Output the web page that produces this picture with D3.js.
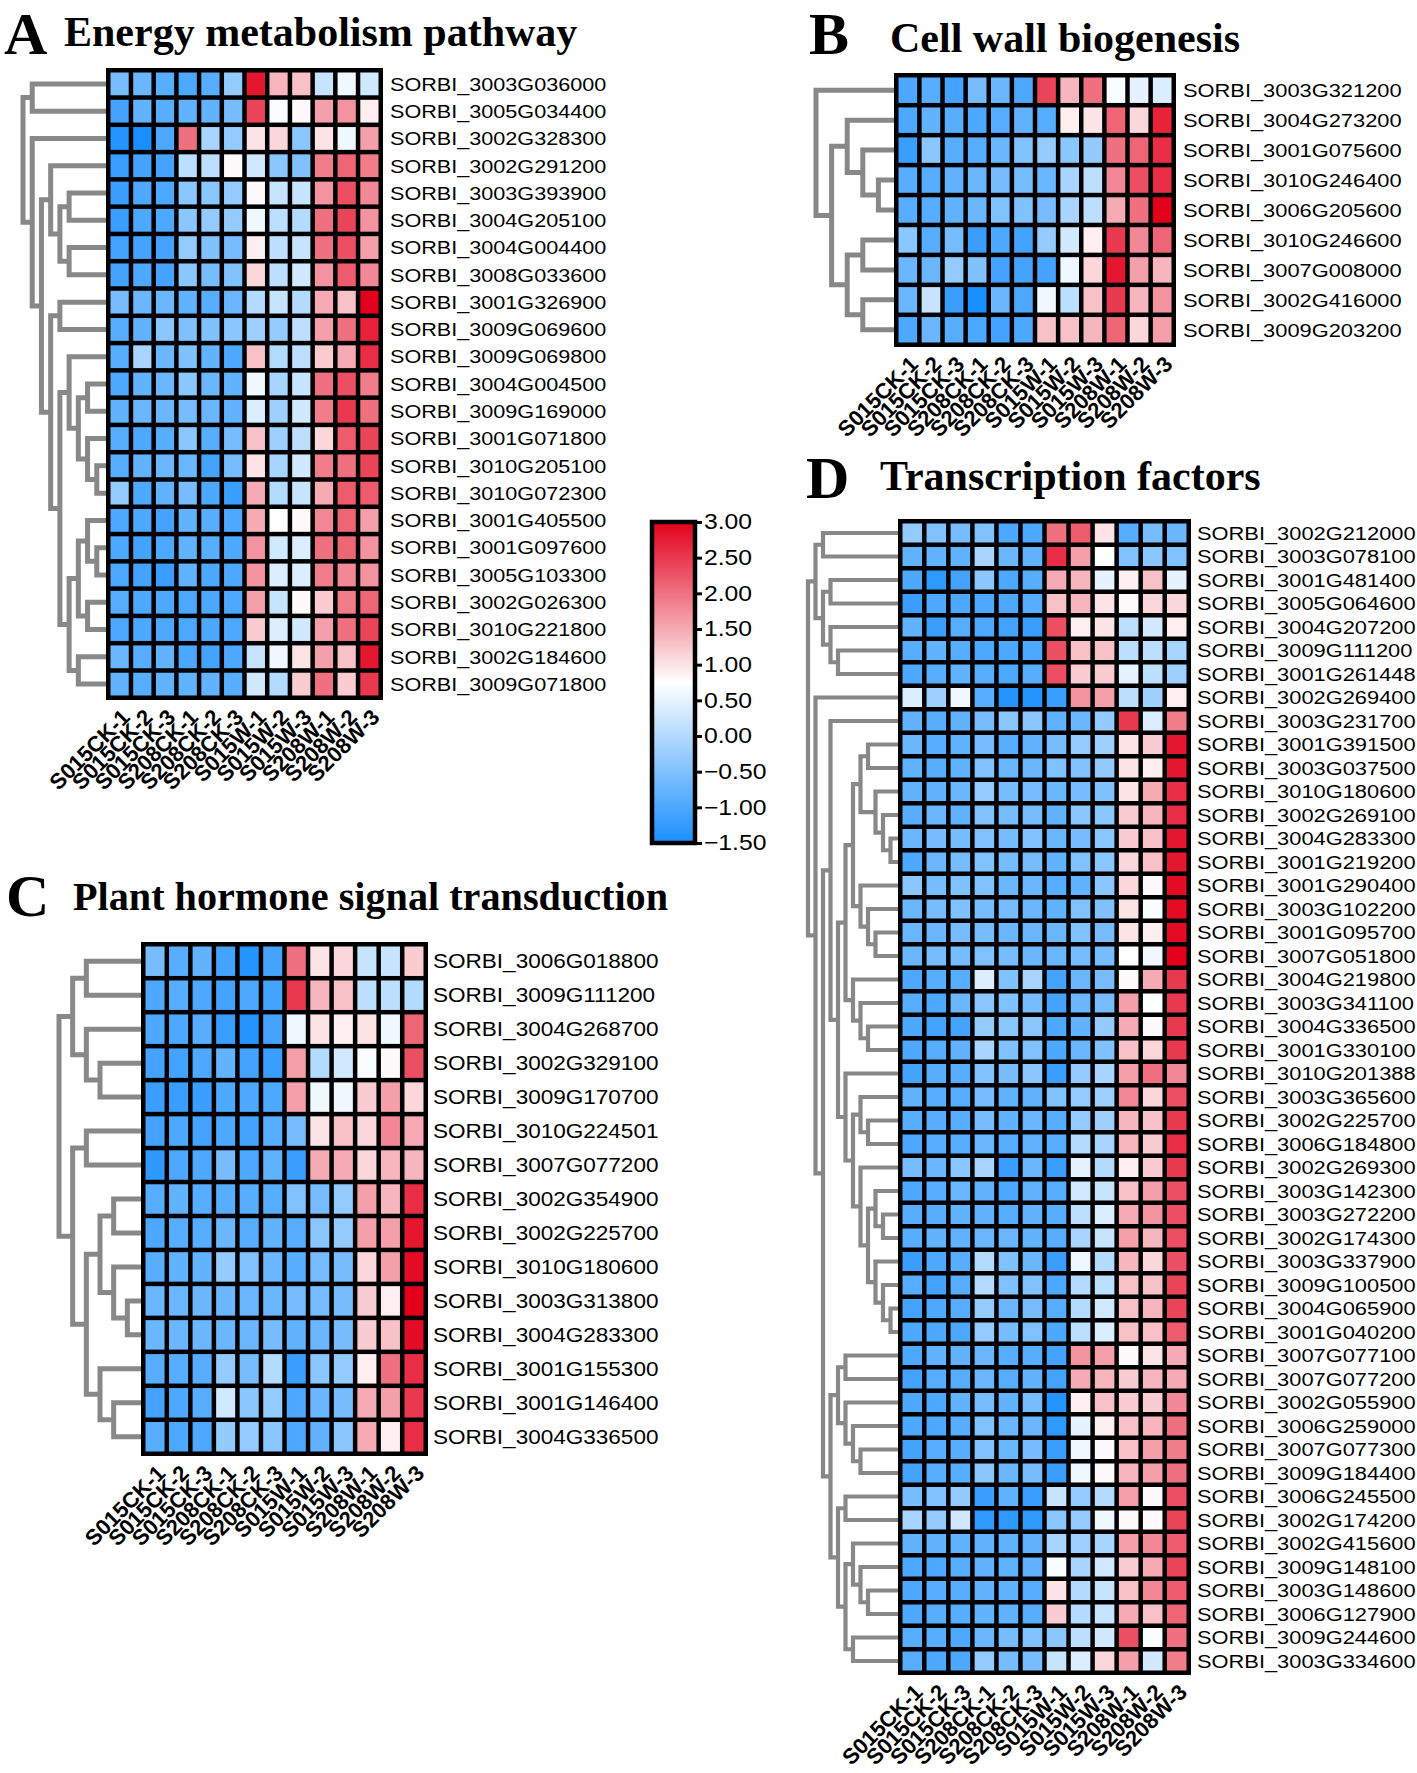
<!DOCTYPE html>
<html>
<head>
<meta charset="utf-8">
<script src="https://cdn.jsdelivr.net/npm/d3@7"></script>
<style>
  body { margin: 0; background: #fff; }
  svg text { font-family: "Liberation Sans", Arial, sans-serif; fill: #000; }
  .title { font-family: "Liberation Serif", "Times New Roman", serif; font-weight: bold; }
</style>
</head>
<body>
<svg id="chart" width="1417" height="1773"></svg>
<script>
// DATA
const samples = ['S015CK-1', 'S015CK-2', 'S015CK-3', 'S208CK-1', 'S208CK-2', 'S208CK-3',
  'S015W-1', 'S015W-2', 'S015W-3', 'S208W-1', 'S208W-2', 'S208W-3'];

const legendTicks = [3, 2.5, 2, 1.5, 1, 0.5, 0, -0.5, -1, -1.5];

// A - energy metabolism
const genesA = ['SORBI_3003G036000', 'SORBI_3005G034400', 'SORBI_3002G328300', 'SORBI_3002G291200',
  'SORBI_3003G393900', 'SORBI_3004G205100', 'SORBI_3004G004400', 'SORBI_3008G033600',
  'SORBI_3001G326900', 'SORBI_3009G069600', 'SORBI_3009G069800', 'SORBI_3004G004500',
  'SORBI_3009G169000', 'SORBI_3001G071800', 'SORBI_3010G205100', 'SORBI_3010G072300',
  'SORBI_3001G405500', 'SORBI_3001G097600', 'SORBI_3005G103300', 'SORBI_3002G026300',
  'SORBI_3010G221800', 'SORBI_3002G184600', 'SORBI_3009G071800'];
const valuesA = [
  [-0.6, -0.7, -0.9, -1.0, -0.9, -0.3, 2.8, 1.4, 1.3, 0.2, 0.6, 0.3],
  [-1.1, -0.8, -0.9, -0.8, -0.8, -0.6, 2.4, 0.7, 0.8, 1.6, 1.7, 0.9],
  [-1.4, -1.5, -1.0, 2.0, -0.1, -0.3, 1.0, 1.1, -0.4, 1.0, 0.6, 1.6],
  [-1.2, -1.1, -1.1, 0.1, 0.1, 0.8, 0.3, -0.4, -0.5, 1.9, 2.1, 1.9],
  [-1.2, -1.0, -1.0, -0.4, -0.4, -0.3, 0.8, 0.2, 0.2, 1.7, 2.3, 1.8],
  [-1.2, -1.0, -1.0, -0.4, -0.3, -0.3, 0.6, 0.1, 0.0, 2.0, 2.4, 1.7],
  [-1.1, -1.1, -1.1, -0.3, -0.5, -0.6, 0.9, 0.1, 0.2, 2.0, 2.3, 1.6],
  [-1.1, -1.0, -1.1, -0.4, -0.6, -0.5, 1.1, 0.1, 0.3, 1.7, 2.2, 1.8],
  [-0.6, -0.7, -0.7, -0.8, -0.9, -0.7, 0.0, 0.2, 0.0, 1.5, 1.3, 3.0],
  [-0.9, -0.8, -0.4, -0.5, -0.5, -0.4, -0.2, -0.3, 0.1, 1.6, 2.0, 2.7],
  [-0.9, -0.1, -0.7, -0.5, -0.8, -1.0, 1.3, 0.0, 0.1, 1.2, 1.5, 2.6],
  [-1.0, -0.8, -0.7, -0.4, -0.7, -0.8, 0.6, -0.1, 0.2, 2.0, 2.3, 1.9],
  [-0.8, -0.7, -0.7, -0.6, -0.7, -0.8, 0.4, -0.2, 0.3, 1.9, 2.5, 2.0],
  [-0.9, -1.0, -0.9, -0.4, -0.9, -0.6, 1.3, -0.2, 0.1, 1.1, 2.2, 2.4],
  [-0.9, -0.8, -0.7, -0.7, -1.1, -0.6, 1.0, -0.1, 0.3, 1.9, 2.0, 2.4],
  [-0.3, -1.0, -0.8, -0.6, -1.0, -1.2, 1.5, 0.0, 0.2, 1.5, 2.2, 2.2],
  [-1.0, -1.0, -1.1, -0.8, -0.9, -1.0, 1.5, 0.75, 0.8, 1.8, 2.1, 1.6],
  [-1.0, -1.1, -1.0, -0.8, -0.9, -1.0, 1.7, 0.3, 0.4, 2.0, 2.1, 1.7],
  [-1.0, -1.1, -1.2, -0.8, -1.0, -1.0, 1.7, 0.4, 0.4, 1.9, 1.8, 1.7],
  [-0.9, -1.0, -1.0, -1.0, -1.0, -1.0, 1.6, 0.2, 0.8, 1.2, 1.9, 2.1],
  [-1.0, -1.0, -1.0, -1.0, -1.0, -1.0, 1.2, 0.4, 0.3, 1.6, 2.0, 2.4],
  [-0.7, -0.9, -0.8, -1.0, -1.1, -1.0, 0.2, 0.6, 1.0, 1.6, 1.3, 2.8],
  [-0.8, -0.9, -0.8, -0.8, -0.8, -0.9, 0.3, 0.0, 1.2, 2.0, 1.2, 2.5]
];
// tree nodes: [height, child, child], leaves are row indexes
const treeA = [9, [8, 0, 1], [8, 2, [7,
  [6, 3, [5, [4, 4, 5], [4, 6, 7]]],
  [6, [5, 8, 9], [5,
    [4, 10, [3, [2, 11, 12], [2, 13, [1, 14, 15]]]],
    [4, [3, [2, 16, [1, 17, 18]], [2, 19, 20]], [3, 21, 22]]]]]]];

// B - cell wall biogenesis
const genesB = ['SORBI_3003G321200', 'SORBI_3004G273200', 'SORBI_3001G075600', 'SORBI_3010G246400',
  'SORBI_3006G205600', 'SORBI_3010G246600', 'SORBI_3007G008000', 'SORBI_3002G416000',
  'SORBI_3009G203200'];
const valuesB = [
  [-1.0, -0.9, -1.1, -0.6, -0.7, -1.0, 2.4, 1.4, 2.0, 0.7, 0.5, 0.4],
  [-1.0, -0.8, -0.9, -1.0, -0.9, -0.8, -0.9, 0.9, 1.0, 2.1, 1.1, 2.7],
  [-1.2, -0.4, -0.9, -0.9, -0.7, -0.5, -0.3, -0.4, -0.3, 2.0, 2.1, 2.6],
  [-0.9, -0.9, -0.8, -0.7, -0.6, -0.6, -0.7, -0.1, 0.1, 1.8, 2.3, 2.6],
  [-0.9, -0.9, -0.8, -0.7, -0.5, -0.5, -0.6, -0.1, 0.1, 1.5, 2.0, 3.0],
  [-0.4, -0.9, -0.6, -1.2, -1.0, -1.1, -0.3, 0.3, 0.9, 2.5, 1.8, 2.1],
  [-0.7, -0.7, -0.3, -0.5, -1.1, -1.1, -1.1, 0.6, 1.1, 2.8, 1.6, 1.4],
  [-0.7, 0.2, -1.2, -1.5, -0.7, -1.0, 0.6, 0.1, 1.3, 2.5, 1.4, 1.7],
  [-1.0, -0.7, -0.9, -1.0, -1.1, -1.0, 1.3, 1.3, 1.4, 2.1, 1.1, 1.6]
];
const treeB = [5, 0, [4, [3, 1, [2, 2, [1, 3, 4]]], [3, [2, 5, 6], [2, 7, 8]]]];

// C - plant hormone signal transduction
const genesC = ['SORBI_3006G018800', 'SORBI_3009G111200', 'SORBI_3004G268700', 'SORBI_3002G329100',
  'SORBI_3009G170700', 'SORBI_3010G224501', 'SORBI_3007G077200', 'SORBI_3002G354900',
  'SORBI_3002G225700', 'SORBI_3010G180600', 'SORBI_3003G313800', 'SORBI_3004G283300',
  'SORBI_3001G155300', 'SORBI_3001G146400', 'SORBI_3004G336500'];
const valuesC = [
  [-0.6, -0.9, -0.8, -1.1, -1.4, -1.1, 2.0, 1.0, 1.1, 0.2, 0.2, 1.2],
  [-1.0, -0.9, -1.0, -1.1, -1.0, -1.1, 2.5, 1.4, 1.3, 0.1, 0.1, 0.0],
  [-1.0, -1.0, -0.9, -1.2, -1.4, -1.1, 0.6, 1.0, 0.9, 1.0, 0.6, 2.1],
  [-1.1, -1.1, -1.0, -0.8, -1.1, -1.2, 1.6, 0.0, 0.3, 0.7, 0.8, 2.3],
  [-1.2, -1.2, -1.2, -1.0, -1.0, -1.0, 1.6, 0.6, 0.6, 1.2, 1.6, 1.1],
  [-1.1, -1.0, -1.1, -1.0, -1.1, -0.9, -0.6, 1.0, 1.3, 1.1, 1.8, 1.5],
  [-1.3, -1.0, -1.0, -0.6, -1.0, -0.8, -1.2, 1.5, 1.5, 1.1, 1.4, 1.4],
  [-0.9, -0.8, -0.9, -0.9, -0.9, -0.9, -0.5, -0.6, -0.3, 1.6, 1.4, 2.6],
  [-1.0, -0.9, -0.9, -0.7, -0.9, -0.8, -0.9, -0.4, -0.3, 1.6, 1.6, 2.8],
  [-0.9, -0.8, -0.8, -0.3, -0.5, -0.7, -0.9, -0.6, -0.6, 1.1, 1.6, 2.9],
  [-0.7, -0.7, -0.7, -0.7, -0.7, -0.7, -0.6, -0.6, -0.6, 1.2, 0.9, 3.0],
  [-0.7, -0.7, -0.7, -0.7, -0.7, -0.6, -0.8, -0.7, -0.6, 1.2, 1.3, 2.9],
  [-0.9, -0.9, -0.9, -0.3, -0.6, 0.0, -1.2, -0.4, -0.3, 0.9, 2.0, 2.6],
  [-1.1, -1.0, -0.9, 0.3, -0.4, -0.3, -1.0, -0.7, -0.6, 1.5, 1.6, 2.5],
  [-0.9, -1.0, -1.0, -0.3, -0.3, -0.4, -1.0, -0.8, -0.4, 1.5, 0.9, 2.6]
];
const treeC = [6,
  [5, [4, 0, 1], [4, 2, [3, 3, 4]]],
  [5, [4, 5, 6], [4, [3, [2, 7, 8], [2, 9, [1, 10, 11]]], [3, 12, [2, 13, 14]]]]];

// D - transcription factors
const genesD = ['SORBI_3002G212000', 'SORBI_3003G078100', 'SORBI_3001G481400', 'SORBI_3005G064600',
  'SORBI_3004G207200', 'SORBI_3009G111200', 'SORBI_3001G261448', 'SORBI_3002G269400',
  'SORBI_3003G231700', 'SORBI_3001G391500', 'SORBI_3003G037500', 'SORBI_3010G180600',
  'SORBI_3002G269100', 'SORBI_3004G283300', 'SORBI_3001G219200', 'SORBI_3001G290400',
  'SORBI_3003G102200', 'SORBI_3001G095700', 'SORBI_3007G051800', 'SORBI_3004G219800',
  'SORBI_3003G341100', 'SORBI_3004G336500', 'SORBI_3001G330100', 'SORBI_3010G201388',
  'SORBI_3003G365600', 'SORBI_3002G225700', 'SORBI_3006G184800', 'SORBI_3002G269300',
  'SORBI_3003G142300', 'SORBI_3003G272200', 'SORBI_3002G174300', 'SORBI_3003G337900',
  'SORBI_3009G100500', 'SORBI_3004G065900', 'SORBI_3001G040200', 'SORBI_3007G077100',
  'SORBI_3007G077200', 'SORBI_3002G055900', 'SORBI_3006G259000', 'SORBI_3007G077300',
  'SORBI_3009G184400', 'SORBI_3006G245500', 'SORBI_3002G174200', 'SORBI_3002G415600',
  'SORBI_3009G148100', 'SORBI_3003G148600', 'SORBI_3006G127900', 'SORBI_3009G244600',
  'SORBI_3003G334600'];
const valuesD = [
  [-0.3, -0.5, -0.6, -0.5, -1.0, -1.0, 2.0, 2.2, 1.0, -0.9, -0.6, -0.7],
  [-0.8, -0.8, -0.8, -0.1, -0.7, -0.8, 2.6, 1.6, 0.75, -0.5, -0.4, -0.5],
  [-1.0, -1.3, -1.1, -0.4, -1.0, -0.9, 1.5, 1.4, 0.5, 0.9, 1.3, 0.5],
  [-1.2, -1.0, -1.0, -1.0, -1.0, -0.9, 1.3, 1.4, 1.0, 0.8, 1.1, 1.1],
  [-0.8, -1.2, -0.9, -1.0, -1.1, -1.2, 2.3, 0.9, 1.0, 0.1, 0.3, 0.9],
  [-0.9, -0.8, -0.9, -1.0, -1.0, -1.0, 2.3, 1.3, 1.3, 0.1, 0.1, -0.1],
  [-1.0, -0.9, -0.8, -0.9, -1.0, -0.9, 2.3, 1.2, 1.2, 0.5, 0.1, -0.2],
  [0.4, -0.2, 0.6, -0.9, -1.4, -1.4, -1.2, 1.7, 1.6, 0.1, -0.2, 0.9],
  [-0.8, -0.9, -0.8, -0.6, -0.4, -0.4, -0.8, -0.7, -0.3, 2.5, 0.4, 1.9],
  [-0.7, -0.9, -0.8, -0.6, -0.9, -0.8, -0.6, -0.3, -0.2, 1.0, 1.2, 2.8],
  [-0.8, -0.9, -0.8, -0.5, -0.7, -0.7, -0.5, -0.5, -0.3, 1.0, 0.9, 2.8],
  [-0.8, -0.8, -0.7, -0.3, -0.6, -0.6, -0.7, -0.6, -0.5, 1.0, 1.5, 2.6],
  [-0.9, -0.7, -0.8, -0.5, -0.6, -0.6, -0.8, -0.4, -0.4, 1.2, 1.4, 2.6],
  [-0.7, -0.6, -0.6, -0.5, -0.6, -0.5, -0.7, -0.6, -0.4, 1.2, 1.3, 2.8],
  [-1.0, -0.7, -0.6, -0.5, -0.6, -0.6, -0.8, -0.5, -0.4, 1.1, 1.3, 2.8],
  [-0.4, -0.6, -0.5, -0.5, -0.7, -0.7, -0.9, -0.8, -0.4, 1.1, 0.8, 2.9],
  [-0.7, -0.6, -0.5, -0.6, -0.6, -0.7, -0.8, -0.5, -0.5, 1.0, 0.7, 2.9],
  [-0.7, -0.7, -0.6, -0.6, -0.7, -0.7, -0.7, -0.5, -0.6, 1.0, 0.9, 2.9],
  [-0.7, -0.6, -0.6, -0.5, -0.6, -0.7, -0.7, -0.6, -0.6, 0.75, 0.6, 3.0],
  [-1.0, -0.9, -0.9, 0.4, -0.5, -0.1, -1.1, -0.7, -0.6, 0.8, 1.5, 2.5],
  [-0.9, -1.0, -0.7, -0.4, -0.5, -0.6, -1.1, -0.7, -0.6, 1.6, 0.75, 2.5],
  [-1.0, -1.1, -1.1, -0.3, -0.4, -0.4, -1.0, -0.8, -0.3, 1.5, 0.8, 2.5],
  [-1.0, -0.9, -0.8, -0.1, -0.5, -0.5, -1.0, -0.7, -0.5, 1.3, 1.1, 2.5],
  [-1.1, -0.9, -0.9, -0.5, -0.6, -0.4, -1.2, -0.3, -0.1, 1.6, 2.0, 1.8],
  [-0.8, -0.9, -0.9, -0.6, -0.8, -0.8, -0.5, -0.3, -0.2, 1.8, 1.1, 2.3],
  [-0.9, -0.9, -0.9, -0.6, -0.8, -0.7, -0.9, -0.3, -0.2, 1.4, 1.3, 2.5],
  [-1.0, -0.9, -0.9, -0.7, -0.9, -0.8, -0.9, 0.0, -0.1, 1.4, 1.2, 2.6],
  [-0.6, -0.7, -0.4, -0.1, -1.2, -0.7, -1.2, 0.5, 0.0, 0.9, 1.2, 2.5],
  [-1.0, -0.9, -0.7, -0.8, -1.0, -0.8, -0.9, 0.3, 0.2, 1.3, 1.6, 2.3],
  [-0.9, -0.9, -0.8, -0.8, -0.9, -0.8, -0.9, 0.1, 0.4, 1.5, 1.7, 2.3],
  [-0.9, -0.8, -0.8, -0.7, -0.7, -0.8, -0.9, -0.1, 0.2, 1.6, 1.4, 2.3],
  [-1.2, -1.0, -0.9, 0.0, -0.5, -0.7, -1.2, 0.6, 0.0, 1.4, 1.1, 2.3],
  [-0.9, -1.1, -0.9, 0.0, -0.5, -0.5, -1.0, 0.0, 0.1, 1.3, 1.3, 2.4],
  [-1.1, -1.0, -0.9, -0.3, -0.7, -0.6, -0.9, 0.0, 0.3, 1.3, 1.4, 2.4],
  [-1.0, -1.0, -1.0, -0.3, -0.6, -0.5, -1.0, 0.1, 0.4, 1.3, 1.3, 2.2],
  [-1.0, -0.8, -0.8, -0.7, -0.9, -0.9, -1.1, 1.7, 1.6, 0.8, 1.0, 1.5],
  [-1.1, -0.9, -0.9, -0.7, -0.9, -0.8, -1.1, 1.5, 1.4, 1.2, 1.4, 1.5],
  [-1.0, -1.0, -0.8, -0.6, -0.8, -0.6, -1.4, 0.9, 1.3, 1.2, 1.2, 1.8],
  [-1.0, -1.0, -0.9, -0.5, -0.7, -0.7, -1.3, 0.5, 0.9, 1.3, 1.4, 2.0],
  [-1.1, -0.9, -0.9, -0.5, -0.7, -0.6, -1.2, 0.6, 0.8, 1.3, 1.6, 1.9],
  [-1.1, -0.9, -0.9, -0.4, -0.7, -0.6, -1.2, 0.6, 0.8, 1.4, 1.6, 2.0],
  [-0.6, -0.5, -0.3, -1.2, -0.8, -1.2, 0.2, -0.3, 0.0, 1.6, 0.8, 2.3],
  [-0.1, -0.3, 0.3, -1.3, -1.3, -1.3, -0.4, -0.3, 0.6, 0.8, 0.8, 2.4],
  [-0.8, -0.8, -0.8, -0.8, -0.8, -0.8, -0.1, -0.2, -0.1, 1.6, 1.8, 2.2],
  [-1.0, -1.0, -0.9, -0.8, -0.8, -0.8, 0.7, -0.1, 0.3, 1.2, 1.5, 2.4],
  [-1.0, -0.9, -0.9, -0.8, -0.8, -0.9, 1.0, 0.0, 0.2, 1.3, 1.8, 2.2],
  [-1.0, -0.9, -0.9, -0.8, -0.8, -0.9, 1.2, 0.0, 0.2, 1.5, 1.3, 2.1],
  [-0.9, -0.9, -1.0, -0.7, -0.6, -0.5, -0.4, 0.1, 0.3, 2.3, 0.7, 2.0],
  [-0.9, -1.0, -1.0, -0.3, -0.6, -0.6, 0.2, 0.4, 1.1, 1.6, 0.3, 1.9]
];
const treeD = [12,
  [11, [10, 0, 1], [10, [9, 2, 3], [9, 4, [8, 5, 6]]]],
  [11, 7, [10,
    [9, 8, [8,
      [7,
        [6,
          [5, [4, 9, 10], [3, 11, [2, 12, [1, 13, 14]]]],
          [5, 15, [4, 16, [3, 17, 18]]]],
        [6, 19, [5, 20, [4, 21, 22]]]],
      [7, 23, [6,
        [5, 24, [4, 25, 26]],
        [5, 27, [4, [3, 28, [2, 29, 30]], [3, 31, [2, 32, [1, 33, 34]]]]]]]]],
    [9,
      [8, [7, 35, 36], [7, 37, [6, 38, [5, 39, 40]]]],
      [8, [7, 41, 42], [7, [6, 43, [5, 44, [4, 45, 46]]], [6, 47, 48]]]]]]];

// SETTINGS
const cellGap = 4.5;
const treeColor = '#888888';
const textStretch = 1.15;
const color = d3.scaleLinear()
  .domain([-1.5, 0.75, 3])
  .range(['#1a8fff', '#ffffff', '#e3001b']);

const panels = [
  { letter: 'A', title: 'Energy metabolism pathway', genes: genesA, values: valuesA, tree: treeA,
    left: 106, right: 383, top: 68, bottom: 700, rootX: 23, labelX: 390, labelSize: 18.8, treeWidth: 5,
    letterX: 4, letterY: 54, titleX: 64, titleY: 46, titleSize: 42 },
  { letter: 'B', title: 'Cell wall biogenesis', genes: genesB, values: valuesB, tree: treeB,
    left: 894, right: 1176, top: 73, bottom: 347, rootX: 816, labelX: 1183, labelSize: 19, treeWidth: 5,
    letterX: 809, letterY: 54, titleX: 890, titleY: 52, titleSize: 42 },
  { letter: 'C', title: 'Plant hormone signal transduction', genes: genesC, values: valuesC, tree: treeC,
    left: 141, right: 428, top: 942, bottom: 1456, rootX: 59, labelX: 433, labelSize: 19.6, treeWidth: 5,
    letterX: 6, letterY: 916, titleX: 73, titleY: 910, titleSize: 40.2 },
  { letter: 'D', title: 'Transcription factors', genes: genesD, values: valuesD, tree: treeD,
    left: 898, right: 1191, top: 519, bottom: 1675, rootX: 808, labelX: 1197, labelSize: 19, treeWidth: 4.2,
    letterX: 806, letterY: 498, titleX: 880, titleY: 490, titleSize: 42 }
];

const svg = d3.select('#chart');

function drawPanel(p) {
  const g = svg.append('g').attr('class', 'panel-' + p.letter);

  // SCALES
  const x = d3.scaleBand()
    .domain(d3.range(samples.length))
    .range([p.left + cellGap / 2, p.right - cellGap / 2]);
  const y = d3.scaleBand()
    .domain(d3.range(p.genes.length))
    .range([p.top + cellGap / 2, p.bottom - cellGap / 2]);
  const h = d3.scaleLinear()
    .domain([0, p.tree[0]])
    .range([p.left, p.rootX]);

  // DENDROGRAM
  const root = d3.hierarchy(p.tree, d => Array.isArray(d) ? d.slice(1) : null);
  root.eachAfter(n => {
    if (n.children) {
      n.py = d3.mean(n.children, c => c.py);
      n.px = h(n.data[0]);
    } else {
      n.py = y(n.data) + y.bandwidth() / 2;
      n.px = p.left;
    }
  });
  g.append('g')
    .selectAll('path')
    .data(root.descendants().filter(n => n.children))
    .join('path')
      .attr('d', n => {
        const [a, b] = n.children;
        return `M${a.px},${a.py}H${n.px}V${b.py}H${b.px}`;
      })
      .attr('fill', 'none')
      .attr('stroke', treeColor)
      .attr('stroke-width', p.treeWidth)
      .attr('stroke-linejoin', 'miter');

  // HEATMAP
  g.append('rect')
    .attr('x', p.left).attr('y', p.top)
    .attr('width', p.right - p.left).attr('height', p.bottom - p.top)
    .attr('fill', '#000');

  g.append('g')
    .selectAll('g')
    .data(p.values)
    .join('g')
    .selectAll('rect')
    .data((row, i) => row.map((v, j) => ({ v, i, j })))
    .join('rect')
      .attr('x', d => x(d.j) + cellGap / 2)
      .attr('y', d => y(d.i) + cellGap / 2)
      .attr('width', x.bandwidth() - cellGap)
      .attr('height', y.bandwidth() - cellGap)
      .attr('fill', d => color(d.v));

  // ROW LABELS
  g.append('g')
    .selectAll('text')
    .data(p.genes)
    .join('text')
      .attr('transform', (d, i) => `translate(${p.labelX},${y(i) + y.bandwidth() / 2}) scale(${textStretch},1)`)
      .attr('dy', '0.36em')
      .attr('font-size', p.labelSize)
      .text(d => d);

  // COLUMN LABELS
  g.append('g')
    .selectAll('text')
    .data(samples)
    .join('text')
      .attr('transform', (d, i) => `translate(${x(i) + x.bandwidth() / 2 + 6},${p.bottom + 13}) rotate(-45)`)
      .attr('text-anchor', 'end')
      .attr('dy', '0.36em')
      .attr('font-size', 22)
      .attr('font-weight', 'bold')
      .text(d => d);

  // TITLE
  g.append('text')
    .attr('class', 'title')
    .attr('x', p.letterX).attr('y', p.letterY)
    .attr('font-size', 60)
    .text(p.letter);
  g.append('text')
    .attr('class', 'title')
    .attr('x', p.titleX).attr('y', p.titleY)
    .attr('font-size', p.titleSize)
    .text(p.title);
}

panels.forEach(drawPanel);

// LEGEND
const legend = { x: 652, top: 522, bottom: 843, width: 43 };
const ly = d3.scaleLinear().domain([-1.5, 3]).range([legend.bottom, legend.top]);

const grad = svg.append('defs').append('linearGradient')
  .attr('id', 'legend-grad')
  .attr('x1', 0).attr('y1', 1).attr('x2', 0).attr('y2', 0);
grad.selectAll('stop')
  .data(color.domain())
  .join('stop')
    .attr('offset', d => (d - ly.domain()[0]) / (ly.domain()[1] - ly.domain()[0]))
    .attr('stop-color', d => color(d));

svg.append('rect')
  .attr('x', legend.x).attr('y', legend.top)
  .attr('width', legend.width).attr('height', legend.bottom - legend.top)
  .attr('fill', 'url(#legend-grad)')
  .attr('stroke', '#000')
  .attr('stroke-width', 4.5);

const legendAxis = svg.append('g')
  .attr('transform', `translate(${legend.x + legend.width + 2},0)`)
  .call(d3.axisRight(ly)
    .tickValues(legendTicks)
    .tickSize(5)
    .tickPadding(1)
    .tickFormat(d3.format('.2f')));
legendAxis.select('.domain').remove();
legendAxis.selectAll('line').attr('stroke', '#000').attr('stroke-width', 3);
legendAxis.selectAll('text')
  .attr('font-size', 21.5)
  .attr('font-family', '"Liberation Sans", Arial, sans-serif')
  .attr('fill', '#000')
  .attr('transform', `scale(${textStretch},1)`);
</script>
</body>
</html>
